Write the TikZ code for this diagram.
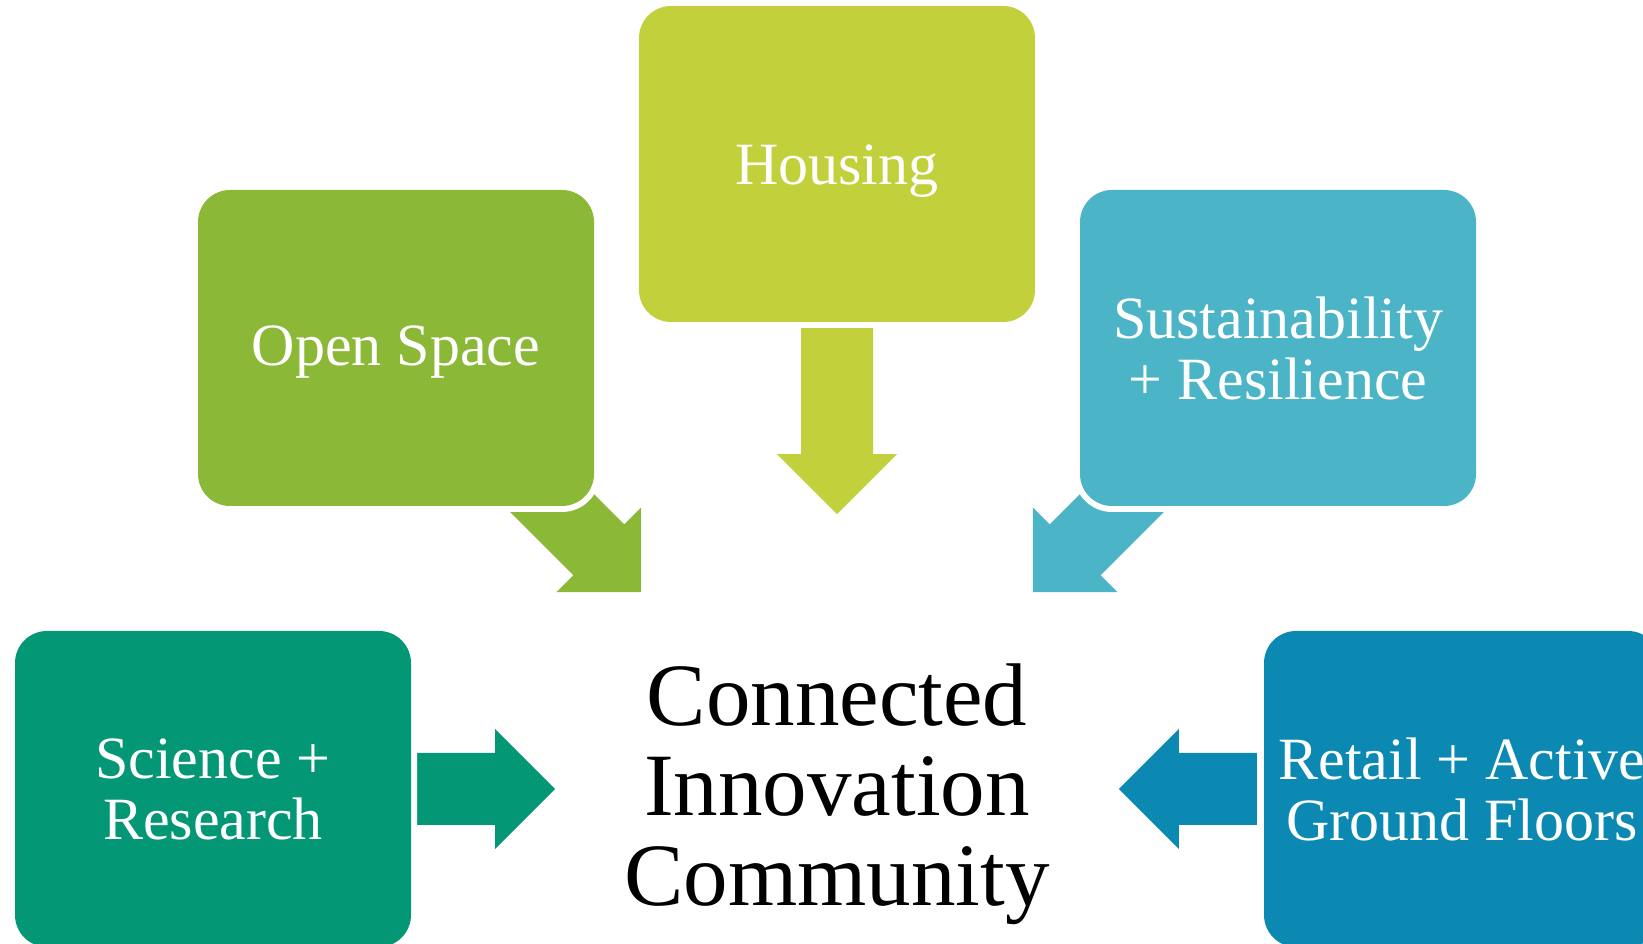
\documentclass[tikz,border=0pt]{standalone}
\usepackage{fontspec}
\setmainfont{Liberation Serif}
\usetikzlibrary{calc,backgrounds}
\definecolor{openspacegreen}{HTML}{8CB837}
\definecolor{housinglime}{HTML}{C1D03B}
\definecolor{sustaincyan}{HTML}{4BB4C6}
\definecolor{sciencegreen}{HTML}{039776}
\definecolor{retailblue}{HTML}{0B89B3}
\tikzstyle{topic} = [rectangle, rounded corners=32pt, minimum width=396pt, minimum height=316pt, inner sep=0pt, text=white, align=center, font=\fontsize{60}{61}\selectfont, preaction={draw=white, line width=12pt}]
\tikzstyle{goal} = [align=center, inner sep=0pt, font=\fontsize{89}{90}\selectfont]
% block arrow: colour, tip, direction, shaft length
\newcommand{\blockarrow}[4]{\fill[#1, shift={(#2)}, rotate=#3] (0,0) -- (-60,60) -- (-60,36) -- ++(-#4,0) -- ++(0,-72) -- (-60,-36) -- (-60,-60) -- cycle;}
\begin{document}
\begin{tikzpicture}[x=1pt, y=1pt]
        \useasboundingbox (0,0) rectangle (1643,944);
        \clip (0,0) rectangle (1643,944);
        \node (title) [goal] at (837,150) {Connected\\Innovation\\Community};
        \node (housing) [topic, fill=housinglime, text height=53pt] at (837,780) {Housing};
        \node (openspace) [topic, fill=openspacegreen, text height=47pt] at (396,596) {Open Space};
        \node (sustain) [topic, fill=sustaincyan] at (1278,596) {Sustainability\\+ Resilience};
        \node (science) [topic, fill=sciencegreen] at (213,155) {Science +\\Research};
        \node (retail) [topic, fill=retailblue] at (1462,155) {Retail + Active\\Ground Floors};
        \coordinate (housingtip) at ($(housing.south)+(0,-192)$);
        \coordinate (opentip) at ($(openspace.south east)+(47,-86)$);
        \coordinate (sustaintip) at ($(sustain.south west)+(-47,-86)$);
        \coordinate (sciencetip) at ($(science.east)+(144,0)$);
        \coordinate (retailtip) at ($(retail.west)+(-145,0)$);
        \begin{scope}[on background layer]
        \blockarrow{housinglime}{housingtip}{-90}{126}
        \blockarrow{openspacegreen}{opentip}{-45}{140}
        \blockarrow{sustaincyan}{sustaintip}{-135}{140}
        \blockarrow{sciencegreen}{sciencetip}{0}{78}
        \blockarrow{retailblue}{retailtip}{180}{78}
        \end{scope}
\end{tikzpicture}
\end{document}
